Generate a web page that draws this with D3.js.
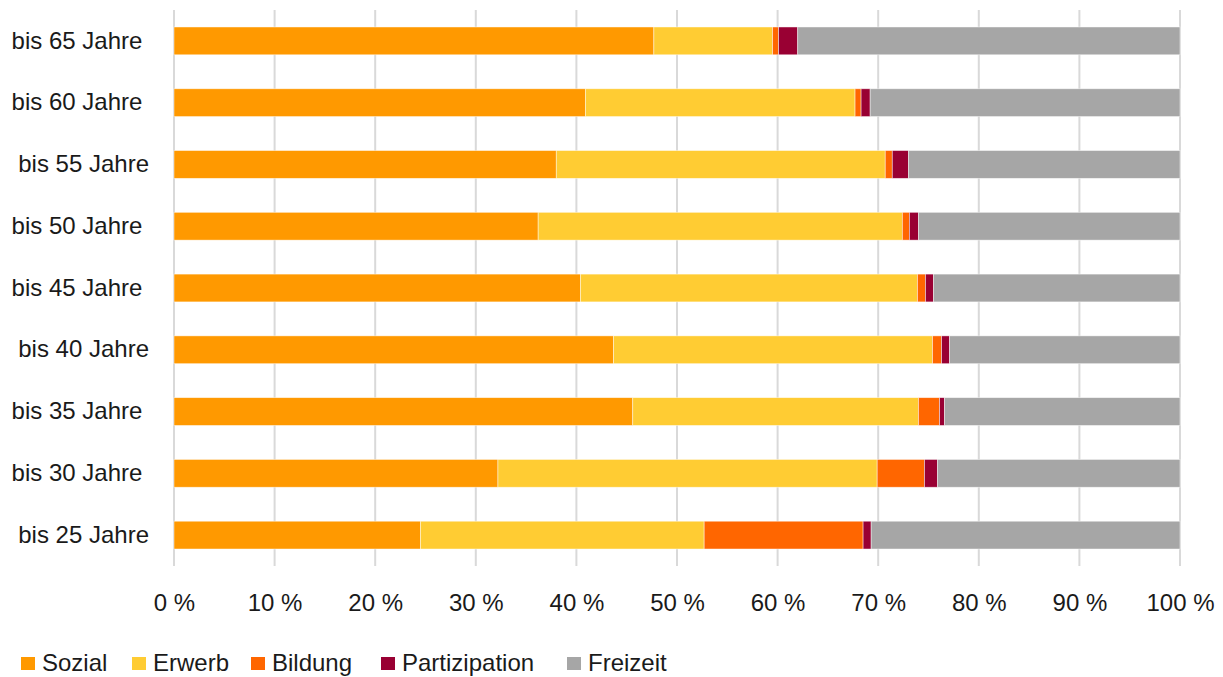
<!DOCTYPE html>
<html>
<head>
<meta charset="utf-8">
<script src="https://cdn.jsdelivr.net/npm/d3@7"></script>
<style>
  body { margin: 0; background: #fff; }
  text { font-family: "Liberation Sans", Arial, sans-serif; fill: #1a1a1a; }
</style>
</head>
<body>
<div id="chart"></div>
<script>
// categories, top to bottom (trailing blanks as in the source labels)
var categories = ["bis 65 Jahre ", "bis 60 Jahre ", "bis 55 Jahre", "bis 50 Jahre ", "bis 45 Jahre ",
                  "bis 40 Jahre", "bis 35 Jahre ", "bis 30 Jahre ", "bis 25 Jahre"];
var seriesNames = ["Sozial", "Erwerb", "Bildung", "Partizipation", "Freizeit"];
var seriesColors = ["#FF9900", "#FFCC33", "#FF6600", "#990033", "#A6A6A6"];

// shares in percent, one value per category
var sozial        = [47.7, 40.9, 38.0, 36.2, 40.4, 43.7, 45.6, 32.2, 24.5];
var erwerb        = [11.8, 26.8, 32.7, 36.2, 33.5, 31.7, 28.4, 37.7, 28.2];
var bildung       = [ 0.6,  0.6,  0.7,  0.7,  0.8,  0.9,  2.1,  4.7, 15.8];
var partizipation = [ 1.9,  0.9,  1.6,  0.9,  0.8,  0.8,  0.5,  1.3,  0.8];
var freizeit      = [38.0, 30.8, 27.0, 26.0, 24.5, 22.9, 23.4, 24.1, 30.7];

var xTicks = [0, 10, 20, 30, 40, 50, 60, 70, 80, 90, 100];

var width = 1223, height = 677;
var margin = {top: 10, right: 43, bottom: 111, left: 174};
var plotW = width - margin.left - margin.right;
var plotH = height - margin.top - margin.bottom;

var rows = categories.map(function(c, i) {
  return {cat: c, Sozial: sozial[i], Erwerb: erwerb[i], Bildung: bildung[i],
          Partizipation: partizipation[i], Freizeit: freizeit[i]};
});

var svg = d3.select("#chart").append("svg")
  .attr("width", width)
  .attr("height", height);

var g = svg.append("g")
  .attr("transform", `translate(${margin.left},${margin.top})`);

var x = d3.scaleLinear().domain([0, 100]).range([0, plotW]);
var y = d3.scaleBand().domain(categories).range([0, plotH]).paddingInner(0.55).paddingOuter(0.275);
var color = d3.scaleOrdinal().domain(seriesNames).range(seriesColors);

// gridlines
g.selectAll(".grid")
  .data(xTicks)
  .enter().append("line")
  .attr("class", "grid")
  .attr("x1", d => x(d)).attr("x2", d => x(d))
  .attr("y1", 0).attr("y2", plotH)
  .attr("stroke", "#D9D9D9")
  .attr("stroke-width", 2);

var stack = d3.stack().keys(seriesNames);
var layers = stack(rows);

g.selectAll(".layer")
  .data(layers)
  .enter().append("g")
  .attr("class", "layer")
  .attr("fill", d => color(d.key))
  .selectAll("rect")
  .data(d => d)
  .enter().append("rect")
  .attr("x", d => x(d[0]))
  .attr("y", d => y(d.data.cat))
  .attr("width", d => x(d[1]) - x(d[0]))
  .attr("height", y.bandwidth())
  .attr("stroke", "rgba(255,255,255,0.6)")
  .attr("stroke-width", 0.75);

// x axis labels
var xAxis = d3.axisBottom(x)
  .tickValues(xTicks)
  .tickSize(0)
  .tickPadding(28)
  .tickFormat(d => d + " %");

g.append("g")
  .attr("transform", `translate(0,${plotH})`)
  .call(xAxis)
  .call(a => a.select(".domain").remove())
  .selectAll("text")
  .style("font-size", "24px")
  .style("font-family", "Liberation Sans, Arial, sans-serif")
  .attr("fill", "#1a1a1a");

// category labels
var yAxis = d3.axisLeft(y).tickSize(0).tickPadding(25);
g.append("g")
  .call(yAxis)
  .call(a => a.select(".domain").remove())
  .selectAll("text")
  .style("font-size", "24px")
  .style("white-space", "pre")
  .attr("xml:space", "preserve")
  .style("font-family", "Liberation Sans, Arial, sans-serif")
  .attr("fill", "#1a1a1a");

// legend
var legendX = [21, 132, 251, 381, 567];
var legend = svg.append("g").attr("transform", "translate(0,663)");
var item = legend.selectAll(".item")
  .data(seriesNames)
  .enter().append("g")
  .attr("class", "item")
  .attr("transform", (d, i) => `translate(${legendX[i]},0)`);
item.append("rect")
  .attr("x", 0).attr("y", -6)
  .attr("width", 14).attr("height", 13)
  .attr("fill", d => color(d));
item.append("text")
  .attr("x", 21).attr("y", 0)
  .attr("dy", "0.35em")
  .style("font-size", "24px")
  .text(d => d);
</script>
</body>
</html>
